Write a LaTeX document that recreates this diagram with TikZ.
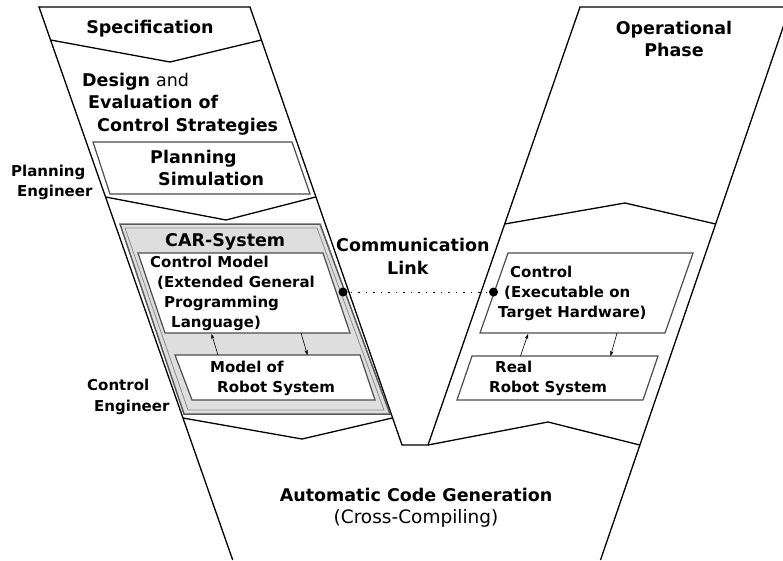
\documentclass[tikz,border=0pt]{standalone}
\usepackage{fontspec}
\setmainfont{DejaVu Sans}
\usetikzlibrary{arrows.meta}

\begin{document}
\begin{tikzpicture}[x=1pt,y=-1pt,
    borde/.style={line width=1.3pt, line join=miter},
    caja/.style={draw=black!70, line width=1.2pt, fill=white},
    titulo/.style={font=\bfseries\fontsize{17.5}{21}\selectfont, inner sep=0pt, anchor=base west},
    texto/.style={font=\bfseries\fontsize{15}{18}\selectfont, inner sep=0pt, anchor=base west},
    flecha/.style={-{Stealth[length=5pt,width=3.5pt]}, line width=0.6pt}]
    % Marco de la figura
    \useasboundingbox (0,0) rectangle (783,560);
    \clip (0,0) rectangle (783,560);

    % Contorno de la V
    \draw[borde] (232.7,560) -- (39,7) -- (250,7) -- (402,445) -- (428,445)
        -- (580,7) -- (790,7) -- (600.5,560);

    % Cheurones de la rama izquierda (hacia abajo)
    \draw[borde] (50.6,40) -- (170,62) -- (261.4,40);
    \draw[borde] (105.6,197) -- (226,220) -- (315.7,197);
    \draw[borde] (183,418) -- (302,439) -- (392.2,418);

    % Cheurones de la rama derecha (hacia arriba)
    \draw[borde] (504.7,224) -- (625,203) -- (715.6,224);
    \draw[borde] (428,445) -- (548,422) -- (639.8,445);

    % Caja de planificacion
    \draw[caja] (93,142) -- (292,142) -- (310,194) -- (110,194) -- cycle;

    % Sistema CAR (gris, doble borde) y sus cajas
    \draw[draw=black!65, line width=1.5pt, fill=black!13] (120,224) -- (320,224) -- (390,414) -- (184,414) -- cycle;
    \draw[draw=black!45, line width=0.8pt] (125,228) -- (317,228) -- (384,410) -- (188,410) -- cycle;
    \draw[caja] (138,253) -- (323,253) -- (350,333) -- (165,333) -- cycle;
    \draw[caja] (175,355) -- (360,355) -- (375,400) -- (192,400) -- cycle;

    % Cajas de la fase operacional
    \draw[caja] (508,253) -- (693,253) -- (665,333) -- (480,333) -- cycle;
    \draw[caja] (472,356) -- (658,356) -- (643,400) -- (457,400) -- cycle;

    % Puntos de union de las flechas
    \coordinate (cm-in)  at (211.5,334);
    \coordinate (mr-out) at (218,355);
    \coordinate (cm-out) at (301,333);
    \coordinate (mr-in)  at (307.5,355);
    \coordinate (ct-in)  at (528,334);
    \coordinate (rr-out) at (520.5,356);
    \coordinate (ct-out) at (617,333);
    \coordinate (rr-in)  at (610.5,356);
    \coordinate (link-a) at (343,292);
    \coordinate (link-b) at (493.5,292);

    % Flechas entre modelos
    \draw[flecha] (mr-out) -- (cm-in);
    \draw[flecha] (cm-out) -- (mr-in);
    \draw[flecha] (rr-out) -- (ct-in);
    \draw[flecha] (ct-out) -- (rr-in);

    % Enlace de comunicacion
    \draw[line width=1pt, dash pattern=on 1.5pt off 6pt] (link-a) -- (link-b);
    \fill (link-a) circle (4.5pt);
    \fill (link-b) circle (4.5pt);

    % Textos rama izquierda
    \node[titulo, anchor=base] (spec) at (150,33) {Specification};
    \node[titulo] (dis1) at (82,86) {Design \mdseries and};
    \node[titulo] (dis2) at (88,108) {Evaluation of};
    \node[titulo] (dis3) at (97,131) {Control Strategies};
    \node[titulo] (sim1) at (150,163) {Planning};
    \node[titulo] (sim2) at (158,185) {Simulation};
    \node[texto] (ing1) at (11,176) {Planning};
    \node[texto] (ing2) at (17,196) {Engineer};
    \node[titulo] (car) at (165,246) {CAR-System};
    \node[texto] (cm1) at (150,267) {Control Model};
    \node[texto] (cm2) at (157,287) {(Extended General};
    \node[texto] (cm3) at (164,307) {Programming};
    \node[texto] (cm4) at (171,327) {Language)};
    \node[texto] (mr1) at (210,372) {Model of};
    \node[texto] (mr2) at (217,392) {Robot System};
    \node[texto] (ce1) at (87,390) {Control};
    \node[texto] (ce2) at (94,411) {Engineer};

    % Textos centro y rama derecha
    \node[titulo] (com1) at (336,251) {Communication};
    \node[titulo] (com2) at (387,274) {Link};
    \node[titulo, anchor=base] (op1) at (674,34) {Operational};
    \node[titulo, anchor=base] (op2) at (674,56) {Phase};
    \node[texto] (ct1) at (510,277) {Control};
    \node[texto] (ct2) at (504,297) {(Executable on};
    \node[texto] (ct3) at (498,317) {Target Hardware)};
    \node[texto] (rr1) at (495,372) {Real};
    \node[texto] (rr2) at (489,392) {Robot System};

    % Generacion de codigo
    \node[titulo, anchor=base] (gen1) at (416,501) {Automatic Code Generation};
    \node[titulo, anchor=base, font=\fontsize{18.5}{22}\selectfont] (gen2) at (416,523) {(Cross-Compiling)};
\end{tikzpicture}
\end{document}
